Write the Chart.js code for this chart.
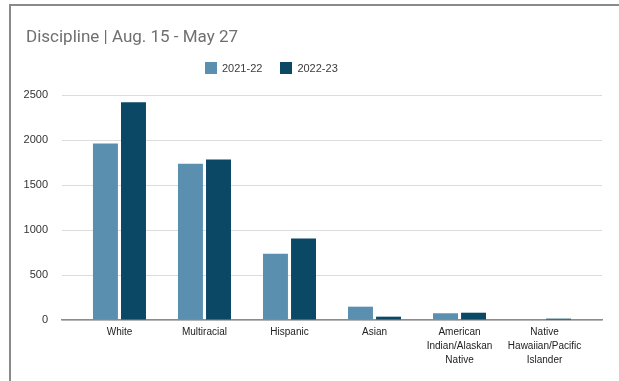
<!DOCTYPE html>
<html>
<head>
<meta charset="utf-8">
<script src="https://cdn.jsdelivr.net/npm/chart.js@4"></script>
<style>
  body { margin: 0; background: #fff; }
  #frame {
    position: absolute; left: 9px; top: 4px; width: 610px; height: 377px;
    border-left: 2px solid #8a8a8a; border-top: 2px solid #8a8a8a;
    box-sizing: border-box;
  }
  #title {
    position: absolute; left: 26px; top: 26px;
    font: 17px Roboto, Arial, sans-serif; color: #6f6f6f;
  }
  #legend {
    position: absolute; left: 205px; top: 62px;
    font: 11px Arial, "Liberation Sans", sans-serif; color: #3c3c3c;
    display: flex; align-items: center;
  }
  #legend span.box { display: inline-block; width: 12px; height: 12px; margin-right: 5px; }
  #legend span.item { display: inline-flex; align-items: center; margin-right: 18px; }
  #wrap { position: absolute; left: 12px; top: 6px; width: 607px; height: 375px; }
</style>
</head>
<body>
<div id="frame"></div>
<div id="wrap"><canvas id="disciplineChart"></canvas></div>
<div id="title">Discipline | Aug. 15 - May 27</div>
<div id="legend"></div>
<script>
const categories = [
  'White',
  'Multiracial',
  'Hispanic',
  'Asian',
  ['American', 'Indian/Alaskan', 'Native'],
  ['Native', 'Hawaiian/Pacific', 'Islander']
];
const seriesNames = ['2021-22', '2022-23'];
const values2122 = [1962, 1735, 736, 148, 75, 0];
const values2223 = [2419, 1784, 906, 37, 81, 15];
const seriesColors = ['#5b8fb0', '#0b4865'];
const yTicks = [0, 500, 1000, 1500, 2000, 2500];

// legend built as plain markup above the plot
const legend = document.getElementById('legend');
seriesNames.forEach(function(name, i) {
  const item = document.createElement('span');
  item.className = 'item';
  item.innerHTML = '<span class="box" style="background:' + seriesColors[i] + '"></span>' + name;
  legend.appendChild(item);
});

function points(arr) {
  return arr.map((v, i) => ({ x: i, y: v }));
}

const ctx = document.getElementById('disciplineChart').getContext('2d');
new Chart(ctx, {
  type: 'bar',
  data: {
    datasets: [
      { label: seriesNames[0], data: points(values2122), backgroundColor: seriesColors[0] },
      { label: seriesNames[1], data: points(values2223), backgroundColor: seriesColors[1] }
    ]
  },
  options: {
    responsive: true,
    maintainAspectRatio: false,
    animation: false,
    categoryPercentage: 0.66,
    barPercentage: 0.89,
    layout: { padding: { left: 0, right: 17, top: 89, bottom: 11 } },
    plugins: { legend: { display: false }, tooltip: { enabled: false } },
    scales: {
      x: {
        type: 'linear',
        offset: false,
        min: -0.676,
        max: 5.676,
        grid: { display: false, drawTicks: false },
        border: { display: true, color: '#8c8c8c', width: 1.5 },
        afterFit: function(scale) { scale.height = 50; },
        ticks: {
          stepSize: 1,
          includeBounds: false,
          autoSkip: false,
          maxRotation: 0,
          padding: 5,
          color: '#222',
          font: { family: 'Arial, "Liberation Sans", sans-serif', size: 10, lineHeight: 1.4 },
          callback: function(value) {
            return Number.isInteger(value) ? categories[value] : '';
          }
        }
      },
      y: {
        min: 0,
        max: yTicks[yTicks.length - 1],
        afterFit: function(scale) { scale.width = 50; },
        afterBuildTicks: function(scale) { scale.ticks = yTicks.map(v => ({ value: v })); },
        grid: { color: '#dcdcdc', drawTicks: false },
        border: { display: false },
        ticks: {
          padding: 14,
          color: '#333',
          font: { family: 'Arial, "Liberation Sans", sans-serif', size: 11 },
          callback: function(value) { return String(value); }
        }
      }
    }
  }
});
</script>
</body>
</html>
